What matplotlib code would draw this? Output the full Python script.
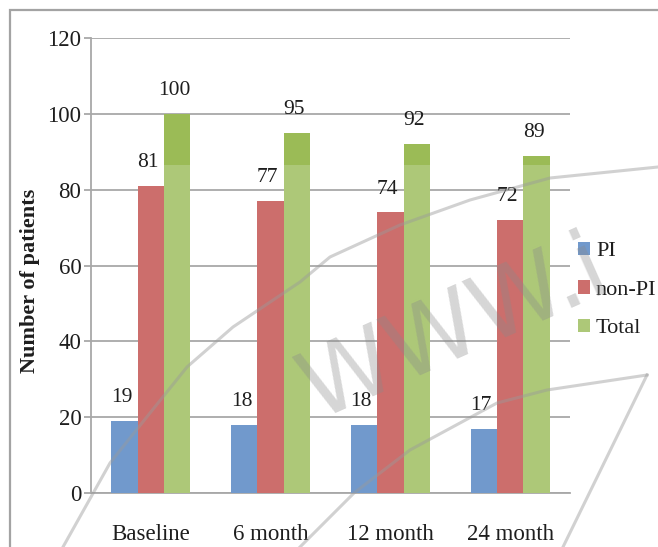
import matplotlib
matplotlib.use("Agg")
import matplotlib.pyplot as plt
from matplotlib.patches import Rectangle
from matplotlib.lines import Line2D
import numpy as np

categories = ["Baseline", "6 month", "12 month", "24 month"]
pi_values = [19, 18, 18, 17]
non_pi_values = [81, 77, 74, 72]
total_values = [100, 95, 92, 89]
series_names = ["PI", "non-PI", "Total"]
y_ticks = [0, 20, 40, 60, 80, 100, 120]

colors = ["#7199cc", "#cc6e6c", "#adc878"]
total_top_color = "#9bbb56"

plt.rcParams["font.family"] = ["Liberation Serif", "DejaVu Serif"]

W, H = 658, 547
fig = plt.figure(figsize=(W / 100, H / 100), dpi=100)
fig.patch.set_facecolor("white")

# outer frame of the chart
fig.add_artist(Rectangle((10 / W, -0.1), 1.2, 1 - 10 / H + 0.1,
                         transform=fig.transFigure, fill=False,
                         edgecolor="#a3a3a3", linewidth=1.6, zorder=0))

ax = fig.add_axes([91 / W, 1 - 493 / H, (570 - 91) / W, (493 - 38) / H])
x = np.arange(len(categories))
bw = 0.22

series = [pi_values, non_pi_values, total_values]
bars = []
for k, vals in enumerate(series):
    b = ax.bar(x + (k - 1) * bw, vals, width=bw, color=colors[k],
               label=series_names[k], zorder=3, linewidth=0)
    bars.append(b)
    for xi, v in zip(x + (k - 1) * bw, vals):
        ax.annotate(str(v), (xi, v), xytext=(-2, 10), textcoords="offset points",
                    ha="center", va="bottom", fontsize=15.5, color="#1e1e1e",
                    zorder=5)

# darker upper band on the total bars
band = Rectangle((-0.5, 86.5), 4.0, 40, transform=ax.transData)
for xi, v in zip(x + bw, total_values):
    r = ax.bar(xi, v, width=bw, color=total_top_color, zorder=3.5, linewidth=0)
    r[0].set_clip_path(band)

ax.set_xlim(-0.5, 3.5)
ax.set_ylim(0, 120)
ax.set_yticks(y_ticks)
ax.set_xticks(x)
ax.set_xticklabels(categories)
ax.yaxis.grid(True, color="#a8a8a8", linewidth=1.3, zorder=1)
ax.set_axisbelow(True)
for s in ["top", "right"]:
    ax.spines[s].set_visible(False)
for s in ["left", "bottom"]:
    ax.spines[s].set_color("#a8a8a8")
    ax.spines[s].set_linewidth(1.3)
ax.tick_params(axis="y", length=5, width=1.3, color="#a8a8a8", pad=2,
               labelsize=16.5, labelcolor="#1e1e1e")
ax.tick_params(axis="x", length=0, pad=22, labelsize=16.5, labelcolor="#1e1e1e")

fig.text(30 / W, 1 - 281 / H, "Number of patients", rotation=90, ha="center",
         va="center", fontsize=16, fontweight="bold", color="#1e1e1e")

leg = fig.legend(handles=bars, labels=series_names, loc="center left",
                 bbox_to_anchor=(567 / W, 1 - 290 / H), frameon=False,
                 fontsize=16, handlelength=0.55, handleheight=0.55,
                 handletextpad=0.25, labelspacing=0.85, borderpad=0)
for t in leg.get_texts():
    t.set_color("#1e1e1e")

# watermark strokes
def fig_line(pts, **kw):
    xs = [p[0] / W for p in pts]
    ys = [1 - p[1] / H for p in pts]
    fig.add_artist(Line2D(xs, ys, transform=fig.transFigure, **kw))

wm = dict(color="#9a9a9a", alpha=0.45, linewidth=2.2, zorder=10)
fig_line([(63, 547), (110, 463), (150, 413), (187, 367), (233, 327),
          (300, 282), (330, 257), (400, 225), (470, 200), (550, 178),
          (658, 167)], **wm)
fig_line([(300, 547), (354, 493), (410, 450), (497, 403), (547, 390),
          (647, 375)], **wm)
fig_line([(647, 375), (563, 547)], **wm)

fig.text(455 / W, 1 - 330 / H, "WWW.i", rotation=24, ha="center", va="center",
         fontsize=68, color="#8a8a8a", alpha=0.35, family="DejaVu Sans",
         zorder=10)

fig.savefig("out.png", dpi=100)
